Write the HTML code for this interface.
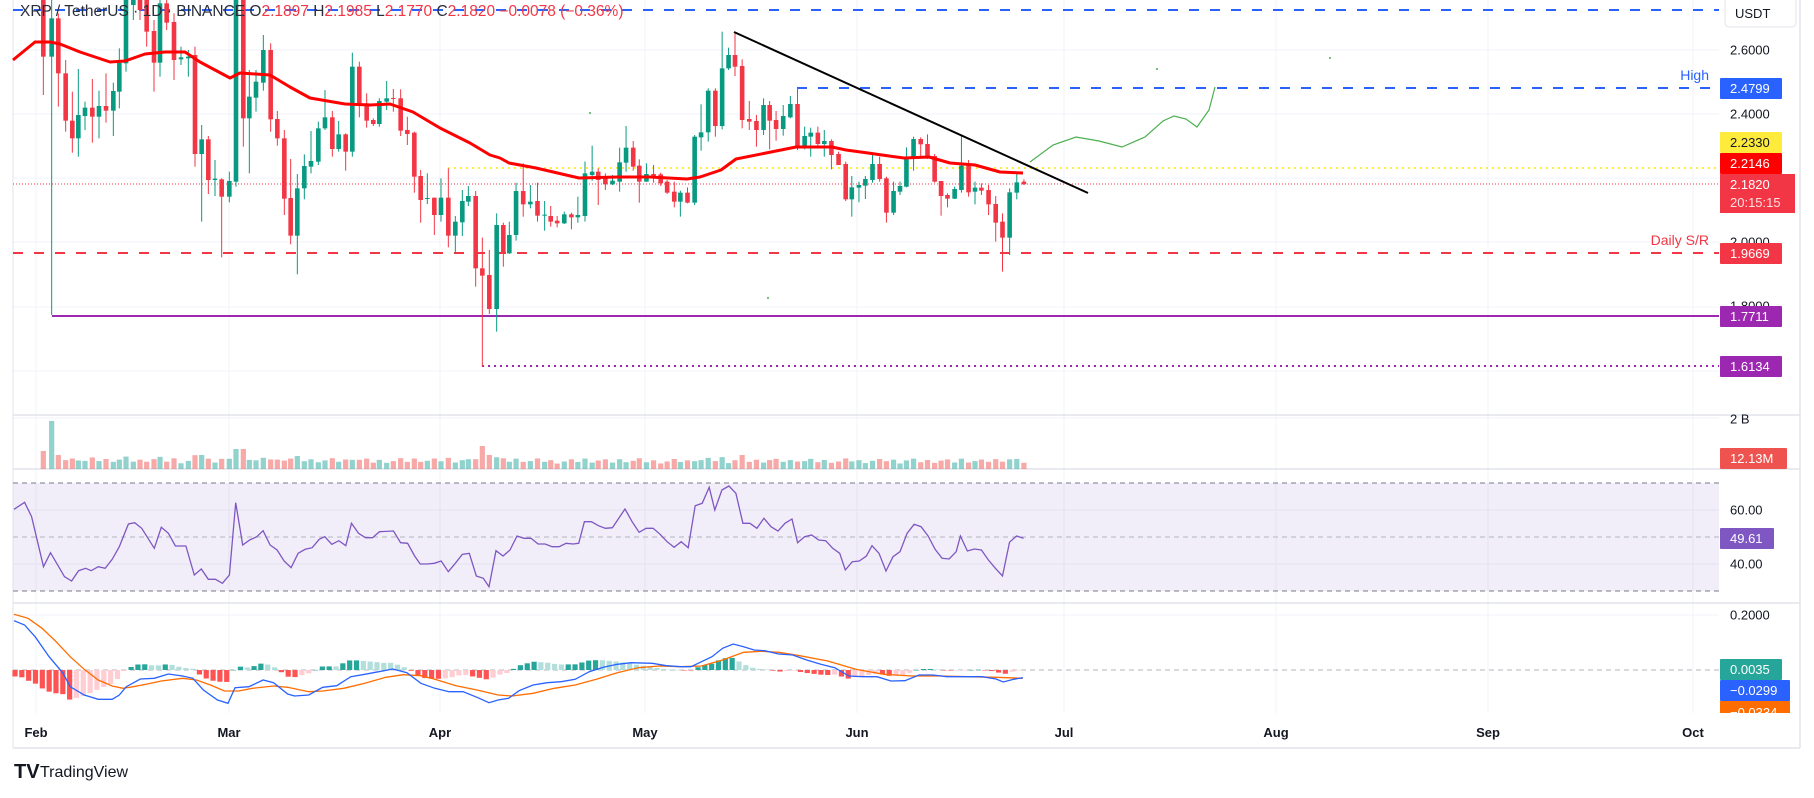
<!DOCTYPE html>
<html><head><meta charset="utf-8">
<style>
html,body{margin:0;padding:0;background:#fff;}
body{width:1814px;height:793px;overflow:hidden;font-family:"Liberation Sans",sans-serif;}
svg text{font-family:"Liberation Sans",sans-serif;}
</style></head><body>
<svg id="c" width="1814" height="793" xmlns="http://www.w3.org/2000/svg">
<rect x="0" y="0" width="1814" height="793" fill="#fff"/>
<g id="grid" stroke="#f0f3fa" stroke-width="1"></g>
<rect x="13" y="483" width="1706" height="108" fill="#7e57c2" fill-opacity="0.1"/>
<g id="lines"></g>
<g id="vol"></g>
<g id="candles"></g>
<g id="ind"></g>
<g id="labels"></g>
</svg>
<script>
const NS="http://www.w3.org/2000/svg";
function el(p,t,a,txt){const e=document.createElementNS(NS,t);for(const k in a)e.setAttribute(k,a[k]);if(txt!==undefined)e.textContent=txt;p.appendChild(e);return e;}
const G=id=>document.getElementById(id);
const grid=G('grid'),lines=G('lines'),vol=G('vol'),cg=G('candles'),ind=G('ind'),lab=G('labels');
[50,114,178,242,307,371].forEach(y=>el(grid,'line',{x1:13,x2:1719,y1:y,y2:y}));
[510,564].forEach(y=>el(grid,'line',{x1:13,x2:1719,y1:y,y2:y}));
[615,418].forEach(y=>el(grid,'line',{x1:13,x2:1719,y1:y,y2:y}));
const months=[["Feb",36],["Mar",229],["Apr",440],["May",645],["Jun",857],["Jul",1064],["Aug",1276],["Sep",1488],["Oct",1693]];
months.forEach(m=>el(grid,'line',{x1:m[1],x2:m[1],y1:0,y2:713}));
[415,469,603].forEach(y=>el(lines,'line',{x1:13,x2:1800,y1:y,y2:y,stroke:'#e0e3eb','stroke-width':1.5}));
el(lines,'line',{x1:13,x2:13,y1:0,y2:748,stroke:'#e0e3eb','stroke-width':1});
el(lines,'line',{x1:1800,x2:1800,y1:0,y2:748,stroke:'#e0e3eb','stroke-width':1.5});
el(lines,'line',{x1:13,x2:1800,y1:748,y2:748,stroke:'#e0e3eb','stroke-width':1.5});
[483,591,537].forEach(y=>el(lines,'line',{x1:13,x2:1719,y1:y,y2:y,stroke:y==537?'#b2b5be':'#787b86','stroke-width':1,'stroke-dasharray':'5,4'}));
el(lines,'line',{x1:13,x2:1719,y1:670,y2:670,stroke:'#b2b5be','stroke-width':1,'stroke-dasharray':'5,4'});
el(lines,'line',{x1:13,x2:1719,y1:10,y2:10,stroke:'#2962ff','stroke-width':2,'stroke-dasharray':'10,11'});
el(lines,'line',{x1:797,x2:1710,y1:88,y2:88,stroke:'#2962ff','stroke-width':2,'stroke-dasharray':'10,11'});
el(lines,'line',{x1:448,x2:1719,y1:168,y2:168,stroke:'#ffeb3b','stroke-width':2,'stroke-dasharray':'2,4'});
el(lines,'line',{x1:13,x2:1719,y1:184,y2:184,stroke:'#f23645','stroke-width':1,'stroke-dasharray':'1,2'});
el(lines,'line',{x1:13,x2:1719,y1:253,y2:253,stroke:'#f23645','stroke-width':2,'stroke-dasharray':'10,11'});
el(lines,'line',{x1:52,x2:1719,y1:316,y2:316,stroke:'#9c27b0','stroke-width':2});
el(lines,'line',{x1:482,x2:1719,y1:366,y2:366,stroke:'#9c27b0','stroke-width':2,'stroke-dasharray':'2,4'});
const A=[
[130,-30,170,-40,285,'r'],[155,55,170,0,945,'g'],[175,55,220,40,320,'r'],[197,220,362,180,395,'r'],[217,362,415,275,458,'r'],
[235,345,415,207,470,'g'],[255,323,348,305,390,'g'],[277,323,350,237,428,'r'],[297,318,350,272,415,'g'],[318,318,332,220,368,'r'],
[340,273,332,248,408,'g'],[358,188,275,145,325,'g'],[378,-30,190,-40,215,'g'],[400,-30,15,-40,60,'g'],[420,-30,30,-40,60,'r'],
[440,-10,95,-30,140,'r'],[462,93,188,60,275,'r'],[480,10,188,-10,230,'g'],[500,10,68,-10,90,'r'],[522,66,180,40,240,'r'],
[543,172,178,140,195,'g'],[565,170,175,150,230,'g'],[585,165,462,140,500,'r'],[605,418,462,375,665,'g'],[625,418,540,408,582,'r'],
[645,536,540,480,588,'g'],[665,538,590,535,772,'r'],[688,543,590,515,607,'g'],[708,-60,545,-70,560,'g'],[730,-60,355,-70,440,'r'],
[748,290,355,210,520,'g'],[768,245,293,210,335,'g'],[790,150,248,105,272,'g'],[812,150,358,130,395,'r'],[832,357,415,333,437,'r'],
[853,415,596,390,645,'r'],[872,594,707,477,733,'r'],[892,565,707,522,823,'g'],[913,498,565,463,598,'g'],[933,483,500,393,520,'g'],
[955,385,485,365,495,'g'],[975,352,385,270,390,'g'],[997,352,447,333,470,'r'],[1016,403,447,363,455,'g'],[1037,403,455,400,512,'r'],
[1057,200,455,158,470,'g'],[1078,200,310,185,352,'r'],[1100,310,362,280,383,'r'],[1120,360,372,355,378,'r'],[1138,303,372,295,380,'g'],
[1160,295,305,243,330,'g'],[1180,294,297,267,335,'r'],[1202,295,392,268,408,'r'],[1222,390,402,350,435,'r'],[1243,398,530,395,578,'r'],
[1262,528,600,510,668,'r'],[1282,594,597,520,612,'g'],[1303,593,645,593,705,'r'],[1323,593,645,535,665,'g'],[1345,593,707,505,742,'r'],
[1366,665,707,648,762,'g'],[1387,603,667,570,708,'g'],[1405,588,605,558,618,'g'],[1427,588,805,573,860,'r'],[1447,805,827,713,1100,'r'],
[1468,825,927,750,942,'r'],[1490,675,927,640,995,'g'],[1510,675,760,668,800,'r'],[1528,705,760,665,762,'g']];
const B=[
[45,573,705,548,722,'g'],[65,573,613,490,650,'r'],[85,605,613,555,625,'g'],[105,603,647,548,665,'r'],[125,644,647,603,692,'g'],
[142,648,665,618,680,'r'],[160,662,670,648,682,'r'],[180,643,670,635,672,'g'],[200,643,652,638,688,'r'],[218,645,652,590,668,'g'],
[238,520,648,485,665,'g'],[258,515,525,437,542,'g'],[275,515,540,505,615,'r'],[295,530,553,520,570,'r'],[315,542,553,525,555,'g'],
[335,487,545,443,575,'g'],[353,443,488,378,515,'g'],[373,443,500,423,512,'r'],[390,497,545,478,608,'r'],[410,522,545,490,545,'g'],
[430,522,530,495,548,'r'],[450,523,550,518,558,'r'],[468,545,578,540,582,'r'],[488,575,605,545,622,'r'],[505,578,605,572,650,'g'],
[525,578,608,562,610,'r'],[545,410,608,405,615,'g'],[563,397,412,313,452,'g'],[583,272,397,265,425,'g'],[603,272,378,265,410,'r'],
[622,205,378,95,388,'g'],[640,165,205,143,210,'g'],[658,165,200,95,228,'r'],[678,198,360,178,385,'r'],[698,357,365,303,390,'r'],
[718,363,390,345,440,'r'],[738,315,390,295,405,'g'],[755,315,362,303,448,'r'],[773,360,387,333,422,'r'],[793,348,387,315,407,'g'],
[813,312,352,288,355,'g'],[833,312,442,263,450,'r'],[853,408,442,380,448,'g'],[870,398,410,383,470,'g'],[890,398,432,380,440,'r'],
[908,423,432,390,470,'g'],[928,423,465,418,508,'r'],[948,462,495,455,495,'r'],[968,492,598,485,603,'r'],[985,562,598,528,650,'g'],
[1005,555,563,545,607,'g'],[1023,537,557,528,597,'g'],[1043,492,540,457,548,'g'],[1063,492,537,470,545,'r'],[1082,535,638,530,668,'r'],
[1102,573,638,545,645,'g'],[1120,558,575,545,585,'g'],[1138,472,560,442,562,'g'],[1158,417,474,410,512,'g'],[1178,417,433,412,470,'r'],
[1197,432,472,403,477,'r'],[1217,468,545,462,548,'r'],[1235,543,588,543,647,'r'],[1253,585,596,580,622,'r'],[1273,567,596,560,597,'g'],
[1292,497,570,405,578,'g'],[1312,497,577,480,590,'r'],[1330,563,575,545,613,'g'],[1348,563,572,550,585,'r'],[1368,570,613,555,645,'r'],
[1388,612,668,588,725,'r'],[1407,665,713,640,815,'r'],[1427,577,713,565,765,'g'],[1447,547,578,518,598,'g'],[1467,545,553,538,555,'r']];
const C=[];
A.forEach(a=>C.push([a[0]/3,a[1]/3,a[2]/3,a[3]/3,a[4]/3,a[5]]));
B.forEach(a=>C.push([500+a[0]/2.8,a[1]/3,a[2]/3,a[3]/3,a[4]/3,a[5]]));
C.forEach((c,i)=>{
  const col=c[5]=='g'?'#089981':'#f23645';
  el(cg,'line',{x1:c[0],x2:c[0],y1:c[3],y2:c[4],stroke:col,'stroke-width':1});
  el(cg,'rect',{x:c[0]-2.3,y:c[1],width:4.6,height:Math.max(1,c[2]-c[1]),fill:col});
  let h=5+(c[4]-c[3])*0.04+((i*37)%5);
  if(i==1)h=48; if(i==0)h=18; if(i==2)h=14;
  if(Math.abs(c[0]-236)<4||Math.abs(c[0]-243)<4)h=20;
  if(Math.abs(c[0]-199)<4)h=14;
  if(Math.abs(c[0]-482)<4)h=23; if(Math.abs(c[0]-489)<4)h=14;
  if(Math.abs(c[0]-740)<4)h=14;
  h=Math.min(h,48);
  el(vol,'rect',{x:c[0]-2.6,y:469-h,width:5.2,height:h,fill:c[5]=='g'?'#26a69a':'#ef5350','fill-opacity':0.5});
});
function poly(g,pts,attrs){el(g,'polyline',Object.assign({points:pts.map(p=>p[0].toFixed(1)+','+p[1].toFixed(1)).join(' '),fill:'none'},attrs));}
poly(ind,[[13,60],[35,42],[50,42],[60,44],[80,52],[110,62],[125,61],[145,54],[165,52],[185,52],[200,62],[230,78],[240,73],[270,75],[290,87],[310,98],[345,104],[370,105],[390,104],[413,112],[440,128],[470,143],[490,155],[500,158],[509,163],[536,168],[579,178],[618,177],[650,177],[687,179],[700,177],[721,170],[736,159],[771,152],[796,147],[832,147],[846,150],[868,153],[882,155],[904,158],[929,157],[950,163],[975,165],[1000,172],[1023,173]],{stroke:'#ff0000','stroke-width':3,'stroke-linejoin':'round'});
el(ind,'line',{x1:734,y1:32,x2:1088,y2:193,stroke:'#000','stroke-width':2});
poly(ind,[[1030,162],[1053,145],[1076,137],[1099,141],[1122,147],[1145,137],[1163,121],[1174,116],[1186,119],[1197,127],[1209,110],[1215,87]],{stroke:'#4caf50','stroke-width':1.2});
[[1330,58],[1157,69],[768,298],[590,113]].forEach(p=>el(ind,'circle',{cx:p[0],cy:p[1],r:1,fill:'#4caf50'}));
const rsi=[[20,328],[35,307],[45,350],[62,500],[72,458],[92,530],[102,543],[112,512],[122,505],[130,512],[140,500],[150,505],[160,478],[170,440],[183,372],[192,368],[202,385],[220,445],[230,382],[240,400],[250,438],[265,438],[277,525],[287,507],[297,538],[307,538],[317,550],[327,525],[336,308],[346,435],[356,420],[366,410],[375,392],[385,435],[395,450],[405,483],[415,503],[425,460],[435,448],[445,443],[455,418],[463,410],[473,433],[483,422],[493,437],[501,370],[511,400],[521,413],[531,413],[541,395],[561,393],[571,428],[581,430],[591,468],[599,492],[609,492],[619,490],[629,483],[639,515],[649,490],[659,463],[669,460],[679,528],[689,535],[697,560],[707,452],[717,468],[727,450],[737,408],[747,415],[757,415],[767,432],[777,432],[787,440],[797,440],[807,430],[817,432],[825,430],[833,365],[843,365],[853,377],[863,385],[873,383],[891,327],[901,365],[911,397],[921,385],[931,385],[941,403],[951,425],[961,442],[971,425],[981,443],[991,317],[1001,310],[1011,262],[1019,330],[1029,270],[1039,258],[1049,280],[1059,370],[1069,370],[1079,385],[1089,355],[1099,380],[1109,393],[1119,370],[1129,357],[1137,428],[1147,410],[1157,405],[1167,420],[1177,422],[1187,445],[1197,460],[1205,510],[1215,485],[1225,483],[1235,468],[1243,437],[1253,460],[1263,513],[1273,470],[1283,455],[1293,400],[1303,373],[1313,380],[1323,408],[1333,448],[1343,475],[1353,477],[1363,455],[1369,408],[1379,453],[1389,447],[1399,450],[1409,480],[1419,505],[1429,528],[1439,427],[1449,408],[1459,415]].map(p=>[p[0]/1.4255,400+p[1]/3]);
poly(ind,rsi,{stroke:'#7e57c2','stroke-width':1.3});
const cv=p=>[p[0]/1.4255,400+p[1]/3];
const blue=[[20,662],[35,675],[50,710],[70,770],[90,820],[100,860],[120,885],[140,898],[160,898],[170,885],[180,860],[200,837],[220,835],[240,822],[260,828],[275,835],[290,870],[310,900],[325,910],[335,863],[355,860],[375,840],[390,848],[410,882],[420,888],[440,885],[460,862],[480,857],[500,830],[520,823],[540,815],[560,807],[580,818],[600,850],[620,865],[640,875],[660,875],[680,892],[697,908],[710,900],[725,895],[740,872],[760,855],[780,848],[800,845],[820,838],[840,815],[860,802],[880,793],[900,788],[930,790],[950,797],[970,800],[985,800],[1000,785],[1015,770],[1030,745],[1045,732],[1060,740],[1075,750],[1090,752],[1110,762],[1130,765],[1150,780],[1170,793],[1190,803],[1210,828],[1230,830],[1250,830],[1270,843],[1290,842],[1310,825],[1330,825],[1350,830],[1370,830],[1400,830],[1420,837],[1430,846],[1445,838],[1458,833]];
const orange=[[20,643],[40,655],[60,685],[80,725],[100,770],[120,808],[140,840],[160,858],[175,865],[190,860],[210,852],[230,843],[260,835],[280,840],[300,855],[320,873],[340,873],[360,865],[390,858],[410,862],[440,875],[460,873],[490,865],[520,850],[550,832],[575,824],[600,827],[620,838],[650,857],[680,870],[710,885],[730,888],[760,880],[790,865],[820,855],[850,838],[880,818],[910,803],[940,798],[970,800],[1000,798],[1030,780],[1060,757],[1085,754],[1110,757],[1140,767],[1180,783],[1220,808],[1260,823],[1300,828],[1340,828],[1380,830],[1420,832],[1458,835]];
const B2=blue.map(cv),O2=orange.map(cv);
function interp(arr,x){if(x<=arr[0][0])return arr[0][1];for(let i=1;i<arr.length;i++){if(x<=arr[i][0]){const t=(x-arr[i-1][0])/(arr[i][0]-arr[i-1][0]);return arr[i-1][1]+t*(arr[i][1]-arr[i-1][1]);}}return arr[arr.length-1][1];}
let prev=null;
const hg=el(ind,'g',{});
for(let x=15;x<=1024;x+=6.83){
  const d=interp(B2,x)-interp(O2,x);
  const v=-d;
  let col;
  if(v>=0)col=(prev!==null&&v<prev)?'#b2dfdb':'#26a69a'; else col=(prev!==null&&v>prev)?'#ffcdd2':'#ff5252';
  prev=v;
  const y=v>=0?670-v:670, h=Math.abs(v);
  el(hg,'rect',{x:x-2.6,y:y,width:5.2,height:Math.max(h,0.5),fill:col});
}
poly(ind,O2,{stroke:'#ff6d00','stroke-width':1.3});
poly(ind,B2,{stroke:'#2962ff','stroke-width':1.3});
const axc='#131722';
[["2.6000",50],["2.4000",114],["2.0000",242],["1.8000",306],["60.00",510],["40.00",564],["0.2000",615],["2 B",419]].forEach(t=>el(lab,'text',{x:1730,y:t[1]+4.5,'font-size':13,fill:axc},t[0]));
function box(y,h,w,bg,tc,txt){el(lab,'rect',{x:1720,y:y,width:w,height:h,fill:bg,rx:1});el(lab,'text',{x:1730,y:y+h/2+4.5,'font-size':13,fill:tc},txt);}
box(78,21,62,'#2962ff','#fff','2.4799');
box(132,21,62,'#ffeb3b','#131722','2.2330');
box(153,21,62,'#ff0000','#fff','2.2146');
box(174,39,75,'#f23645','#fff','2.1820');
el(lab,'rect',{x:1720,y:174,width:75,height:39,fill:'#f23645'});
el(lab,'text',{x:1730,y:189,'font-size':13,fill:'#fff'},'2.1820');
el(lab,'text',{x:1730,y:207,'font-size':13,fill:'#fde0e2'},'20:15:15');
box(243,21,62,'#f23645','#fff','1.9669');
box(306,21,62,'#9c27b0','#fff','1.7711');
box(356,21,62,'#9c27b0','#fff','1.6134');
box(448,21,67,'#ef5350','#fff','12.13M');
box(528,21,54,'#7e57c2','#fff','49.61');
box(659,21,62,'#26a69a','#fff','0.0035');
box(680,21,70,'#2962ff','#fff','\u22120.0299');
el(lab,'rect',{x:1720,y:701,width:70,height:12,fill:'#ff6d00'});
el(lab,'text',{x:1730,y:717,'font-size':13,fill:'#fff'},'\u22120.0334');
el(lab,'rect',{x:1720,y:713,width:79,height:34,fill:'#fff'});
el(lab,'rect',{x:1725,y:-4,width:71,height:31,fill:'#fff',stroke:'#e0e3eb',rx:4});
el(lab,'text',{x:1735,y:18,'font-size':13,fill:axc},'USDT');
el(lab,'text',{x:1709,y:80,'font-size':14,fill:'#2962ff','text-anchor':'end'},'High');
el(lab,'text',{x:1709,y:245,'font-size':14,fill:'#f23645','text-anchor':'end'},'Daily S/R');
months.forEach(m=>el(lab,'text',{x:m[1],y:737,'font-size':13,'font-weight':'bold',fill:axc,'text-anchor':'middle'},m[0]));
const hd=el(lab,'text',{x:20,y:16,'font-size':15.5,fill:'#2a2e39'});
hd.setAttribute('xml:space','preserve');
[["XRP / TetherUS · 1D · BINANCE  ",'#2a2e39'],["O",'#2a2e39'],["2.1897  ",'#f23645'],["H",'#2a2e39'],["2.1985  ",'#f23645'],["L",'#2a2e39'],["2.1770  ",'#f23645'],["C",'#2a2e39'],["2.1820  ",'#f23645'],["\u22120.0078 (\u22120.36%)",'#f23645']].forEach(s=>el(hd,'tspan',{fill:s[1]},s[0]));
el(lab,'text',{x:14,y:778,'font-size':20,'font-weight':'bold',fill:'#131722'},'TV');
el(lab,'text',{x:40,y:777,'font-size':16,fill:'#131722'},'TradingView');
</script>
</body></html>
